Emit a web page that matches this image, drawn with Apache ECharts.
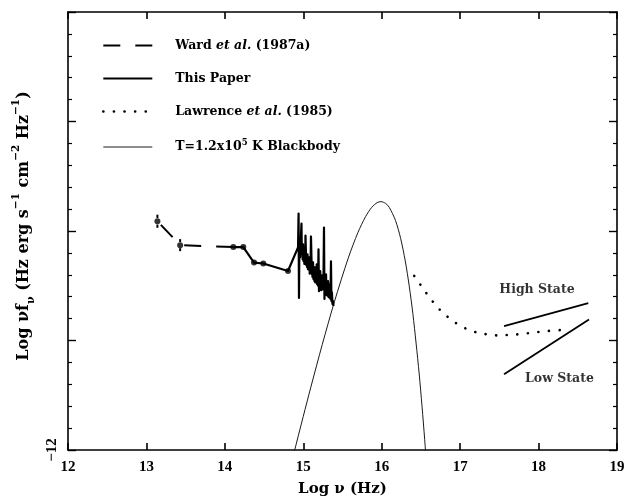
<!DOCTYPE html>
<html>
<head>
<meta charset="utf-8">
<script src="https://cdn.jsdelivr.net/npm/echarts@6/dist/echarts.min.js"></script>
<style>
  html, body { margin: 0; padding: 0; background: #fff; }
  #chart { width: 629px; height: 502px; }
</style>
</head>
<body>
<div id="chart"></div>
<script>
// ---- data (log nu [Hz], log nu f_nu) ----
const xTickValues = [12, 13, 14, 15, 16, 17, 18, 19];
const yLabelValue = -12;
const yLabelText = '\u221212';

// Ward et al. (1987a) infrared photometry, with error bar half-widths
const wardPoints = [[13.14, -9.911], [13.43, -10.129], [14.108, -10.147]];
const wardErrors = [[13.14, -9.911, 0.06], [13.43, -10.129, 0.055]];

// broadband photometry and optical/UV spectrum
const thisPaperPhotometry = [
  [14.108, -10.147], [14.235, -10.147], [14.372, -10.288], [14.490, -10.297], [14.805, -10.365]
];
const thisPaperSpectrum = [
  [14.933, -10.150], [14.940, -9.841], [14.945, -10.612], [14.950, -10.168], [14.955, -10.100],
  [14.960, -10.240], [14.966, -10.130], [14.971, -10.032], [14.977, -9.932], [14.981, -10.213],
  [14.987, -10.150], [14.992, -10.260], [14.997, -10.122], [15.003, -10.277], [15.008, -10.180],
  [15.014, -10.300], [15.019, -10.200], [15.024, -10.295], [15.028, -10.041], [15.033, -10.023],
  [15.038, -10.313], [15.043, -10.230], [15.049, -10.330], [15.054, -10.213], [15.060, -10.350],
  [15.066, -10.260], [15.071, -10.331], [15.077, -10.240], [15.082, -10.390], [15.086, -10.290],
  [15.092, -10.367], [15.098, -10.050], [15.103, -10.059], [15.109, -10.395], [15.113, -10.300],
  [15.117, -10.420], [15.124, -10.286], [15.130, -10.440], [15.137, -10.330], [15.143, -10.458],
  [15.148, -10.331], [15.153, -10.470], [15.160, -10.360], [15.166, -10.440], [15.171, -10.304],
  [15.176, -10.485], [15.182, -10.390], [15.188, -10.500], [15.194, -10.168], [15.200, -10.549],
  [15.206, -10.400], [15.211, -10.540], [15.216, -10.367], [15.221, -10.512], [15.227, -10.420],
  [15.232, -10.540], [15.237, -10.404], [15.242, -10.531], [15.248, -10.450], [15.256, -10.531],
  [15.264, -9.968], [15.270, -10.621], [15.276, -10.470], [15.283, -10.567], [15.290, -10.395],
  [15.296, -10.585], [15.303, -10.470], [15.309, -10.590], [15.316, -10.458], [15.322, -10.603],
  [15.328, -10.500], [15.334, -10.610], [15.341, -10.485], [15.347, -10.621], [15.353, -10.277],
  [15.359, -10.640], [15.365, -10.560], [15.372, -10.667], [15.379, -10.640], [15.385, -10.685]
];

// Lawrence et al. (1985) X-ray curve
const lawrencePoints = [
  [16.415, -10.410], [16.497, -10.494], [16.581, -10.579], [16.667, -10.658], [16.752, -10.727],
  [16.862, -10.796], [16.976, -10.854], [17.104, -10.900], [17.231, -10.930], [17.359, -10.945],
  [17.495, -10.954], [17.627, -10.948], [17.763, -10.942], [17.912, -10.930], [18.053, -10.918],
  [18.188, -10.909], [18.324, -10.903]
];

// T = 1.2e5 K blackbody
const blackbodyPoints = [
  [14.795, -12.272], [14.874, -12.047], [14.999, -11.695], [15.096, -11.427], [15.242, -11.037],
  [15.397, -10.646], [15.573, -10.248], [15.698, -10.012], [15.795, -9.868], [15.874, -9.783],
  [15.941, -9.741], [15.990, -9.732], [16.050, -9.748], [16.096, -9.784], [16.175, -9.903],
  [16.242, -10.070], [16.300, -10.273], [16.351, -10.503], [16.397, -10.754], [16.438, -11.023],
  [16.478, -11.306], [16.514, -11.601], [16.548, -11.906], [16.580, -12.221]
];

// hard X-ray slopes
const highStatePoints = [[17.560, -10.869], [18.634, -10.658]];
const lowStatePoints = [[17.560, -11.308], [18.643, -10.809]];
const stateLabels = [[17.980, -10.537, 'High State'], [18.267, -11.353, 'Low State']];

const legendNames = ['Ward et al. (1987a)', 'This Paper', 'Lawrence et al. (1985)', 'T=1.2x10^5 K Blackbody'];
const legendRich = {
  'Ward et al. (1987a)': '{n|Ward }{i|et al.}{n| (1987a)}',
  'This Paper': '{n|This Paper}',
  'Lawrence et al. (1985)': '{n|Lawrence }{i|et al.}{n| (1985)}',
  'T=1.2x10^5 K Blackbody': '{n|T=1.2x10}{p|5}{n| K Blackbody}'
};

// ---- styling ----
const SERIF = 'DejaVu Serif';
const TICKFONT = 'Liberation Serif';
const INK = '#000';
const NONE = 'rgba(0,0,0,0)';

const chart = echarts.init(document.getElementById('chart'), null, { renderer: 'canvas' });

const frameAxis = {
  axisLine: { show: true, onZero: false, lineStyle: { color: INK, width: 1.6 } },
  splitLine: { show: false }
};

chart.setOption({
  backgroundColor: '#fff',
  animation: false,
  grid: { left: 68, right: 12, top: 12, bottom: 50 },
  legend: {
    orient: 'vertical',
    left: 102,
    top: 39,
    padding: 0,
    itemWidth: 49,
    itemHeight: 14,
    itemGap: 20,
    selectedMode: false,
    itemStyle: { color: NONE, borderColor: NONE, borderWidth: 0 },
    data: [
      { name: legendNames[0], lineStyle: { width: 2, dashOffset: 0 } },
      { name: legendNames[1], lineStyle: { width: 1.8 } },
      { name: legendNames[2], lineStyle: { width: 2.6 } },
      { name: legendNames[3], lineStyle: { width: 1 } }
    ],
    formatter: name => legendRich[name],
    textStyle: {
      color: INK,
      padding: [0, 0, 0, 18],
      rich: {
        n: { fontFamily: SERIF, fontWeight: 'bold', fontSize: 12.5, color: INK, lineHeight: 18 },
        i: { fontFamily: SERIF, fontWeight: 'bold', fontStyle: 'italic', fontSize: 12.5, color: INK, lineHeight: 18 },
        p: { fontFamily: SERIF, fontWeight: 'bold', fontSize: 8.5, color: INK, verticalAlign: 'top' }
      }
    }
  },
  xAxis: [
    Object.assign({
      type: 'value', min: xTickValues[0], max: xTickValues[xTickValues.length - 1], interval: 1,
      position: 'bottom',
      axisTick: { show: true, inside: true, length: 7, lineStyle: { color: INK, width: 1.6 } },
      axisLabel: { color: INK, fontFamily: TICKFONT, fontWeight: 'bold', fontSize: 15, margin: 10 },
      name: 'Log \u03bd (Hz)',
      nameLocation: 'middle',
      nameGap: 32,
      nameTextStyle: { color: INK, fontFamily: SERIF, fontWeight: 'bold', fontSize: 15 }
    }, frameAxis),
    Object.assign({
      type: 'value', min: xTickValues[0], max: xTickValues[xTickValues.length - 1], interval: 1,
      position: 'top',
      axisTick: { show: true, inside: true, length: 7, lineStyle: { color: INK, width: 1.6 } },
      axisLabel: { show: false }
    }, frameAxis)
  ],
  yAxis: [
    Object.assign({
      type: 'value', min: -12, max: -8, interval: 1,
      position: 'left',
      axisTick: { show: true, inside: true, length: 8, lineStyle: { color: INK, width: 1.4 } },
      minorTick: { show: true, splitNumber: 5, length: 4, lineStyle: { color: INK, width: 1.2 } },
      minorSplitLine: { show: false },
      axisLabel: {
        color: INK, fontFamily: TICKFONT, fontWeight: 'bold', fontSize: 15, rotate: 90, margin: 8,
        formatter: v => (v === yLabelValue ? yLabelText : '')
      },
      name: '{t|Log \u03bdf}{s|\u03bd}{t| (Hz erg s}{p|\u22121}{t| cm}{p|\u22122}{t| Hz}{p|\u22121}{t|)}',
      nameLocation: 'middle',
      nameGap: 28,
      nameTextStyle: {
        color: INK,
        padding: [0, 0, 0, 10],
        rich: {
          t: { fontFamily: SERIF, fontWeight: 'bold', fontSize: 16, color: INK, lineHeight: 26 },
          s: { fontFamily: SERIF, fontWeight: 'bold', fontSize: 11, color: INK, verticalAlign: 'bottom' },
          p: { fontFamily: SERIF, fontWeight: 'bold', fontSize: 10.5, color: INK, verticalAlign: 'top' }
        }
      }
    }, frameAxis),
    Object.assign({
      type: 'value', min: -12, max: -8, interval: 1,
      position: 'right',
      axisTick: { show: true, inside: true, length: 8, lineStyle: { color: INK, width: 1.4 } },
      minorTick: { show: true, splitNumber: 5, length: 4, lineStyle: { color: INK, width: 1.2 } },
      minorSplitLine: { show: false },
      axisLabel: { show: false }
    }, frameAxis)
  ],
  series: [
    {
      name: legendNames[0], type: 'line', data: wardPoints, symbol: 'none',
      lineStyle: { color: INK, width: 2, type: [17, 15], dashOffset: 27 },
      itemStyle: { color: INK }, z: 3
    },
    {
      name: legendNames[1], type: 'line', data: thisPaperPhotometry.concat(thisPaperSpectrum), symbol: 'none',
      lineStyle: { color: INK, width: 2.2, join: 'round' },
      itemStyle: { color: INK }, z: 3
    },
    {
      name: legendNames[2], type: 'line', data: lawrencePoints, symbol: 'none', smooth: true,
      lineStyle: { color: INK, width: 2.6, type: [0.1, 10.5], cap: 'round' },
      itemStyle: { color: INK }, z: 3
    },
    {
      name: legendNames[3], type: 'line', data: blackbodyPoints, symbol: 'none', smooth: 0.3,
      lineStyle: { color: '#1a1a1a', width: 1 },
      itemStyle: { color: INK }, z: 2
    },
    {
      type: 'line', data: highStatePoints, symbol: 'none',
      lineStyle: { color: INK, width: 1.8 }, z: 3
    },
    {
      type: 'line', data: lowStatePoints, symbol: 'none',
      lineStyle: { color: INK, width: 1.8 }, z: 3
    },
    {
      type: 'scatter', data: wardPoints.slice(0, 2).concat(thisPaperPhotometry),
      symbol: 'circle', symbolSize: 6, itemStyle: { color: INK }, z: 4
    },
    {
      type: 'custom', data: wardErrors, z: 4,
      renderItem: (params, api) => {
        const x = api.value(0), y = api.value(1), e = api.value(2);
        const g = e * 0.5;
        const a = api.coord([x, y + e]), b = api.coord([x, y + g]);
        const c = api.coord([x, y - g]), d = api.coord([x, y - e]);
        const st = { stroke: INK, lineWidth: 2 };
        return {
          type: 'group',
          children: [
            { type: 'line', shape: { x1: a[0], y1: a[1], x2: b[0], y2: b[1] }, style: st },
            { type: 'line', shape: { x1: c[0], y1: c[1], x2: d[0], y2: d[1] }, style: st }
          ]
        };
      }
    },
    {
      type: 'scatter', data: stateLabels, symbolSize: 0, z: 5,
      label: {
        show: true, position: 'inside', formatter: p => p.data[2],
        color: INK, fontFamily: SERIF, fontWeight: 'bold', fontSize: 12.5
      }
    }
  ]
});
</script>
</body>
</html>
